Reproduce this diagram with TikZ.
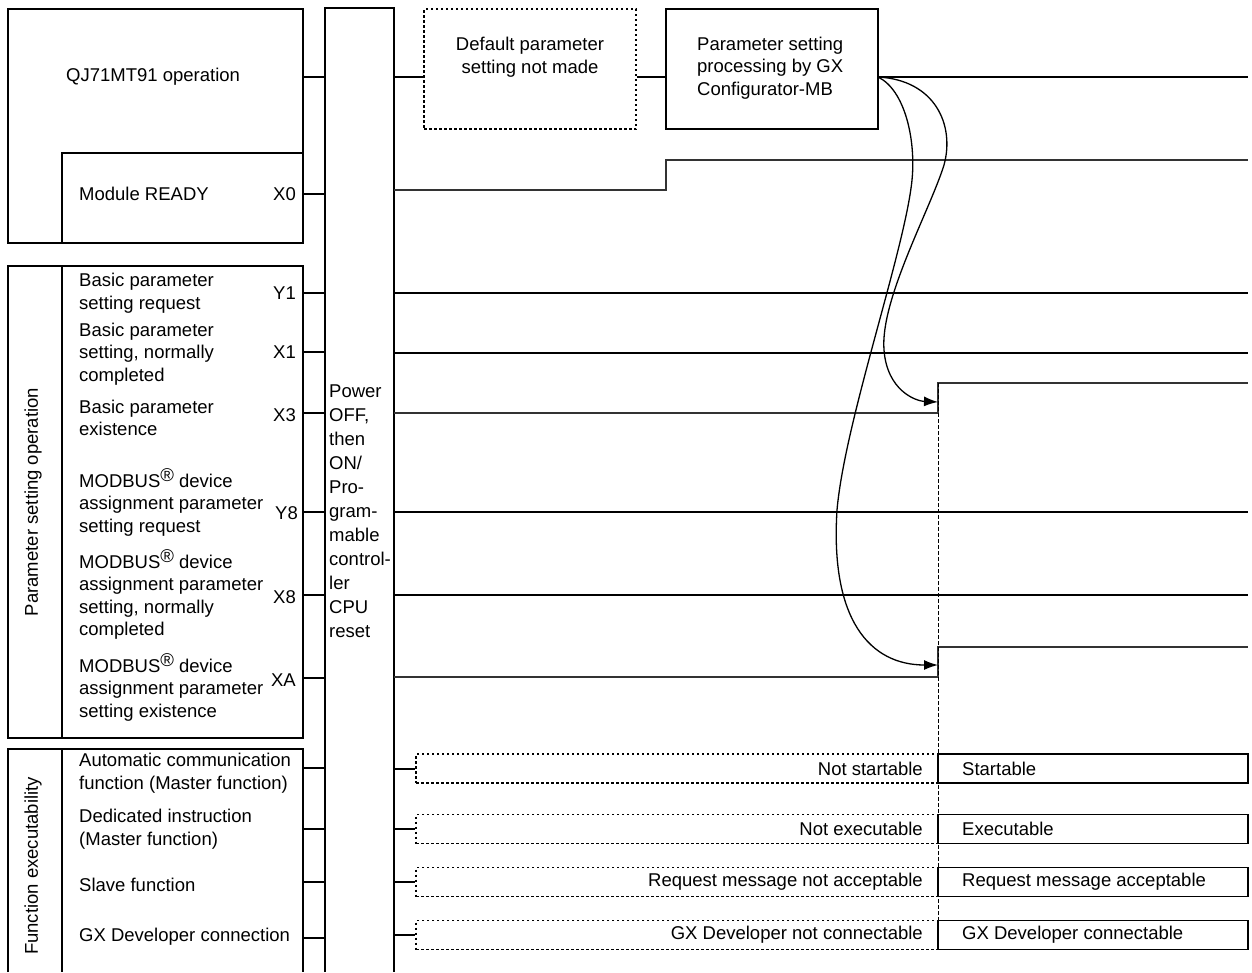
\documentclass[tikz,border=0pt]{standalone}
\usepackage{fontspec}
\setmainfont{Liberation Sans}
\usepackage{tikz}
\usetikzlibrary{arrows.meta, positioning}

\newcommand{\chartfont}{\fontsize{18.5pt}{22.5pt}\selectfont}
\newcommand{\regmark}{\smash{\raisebox{0.55ex}{\textregistered}}}

\tikzset{
  frame/.style={draw, line width=1.3pt},
  sig/.style={line width=1.4pt, draw=black!80},
  bold/.style={line width=2pt},
  dotbox/.style={draw, line width=1.2pt, dash pattern=on 2.5pt off 2.5pt},
  vdash/.style={line width=1pt, dash pattern=on 4pt off 2pt},
  txt/.style={font=\chartfont, inner sep=0pt, align=left, anchor=west},
  bit/.style={font=\chartfont, inner sep=0pt, anchor=east},
  flow/.style={line width=1.3pt, -{Latex[length=14pt, width=10pt]}},
}

\begin{document}
\begin{tikzpicture}[x=1pt, y=-1pt]
  \useasboundingbox (0,0) rectangle (1252,972);

  % left frames
  \draw[frame] (8,9) rectangle (303,243);
  \draw[frame] (62,243) |- (303,153);
  \draw[frame] (8,266) rectangle (303,738);
  \draw[frame] (62,266) -- (62,738);
  \draw[frame] (8,972) |- (303,749) -- (303,972);
  \draw[frame] (62,749) -- (62,972);

  % reset column
  \draw[frame] (325,972) |- (394,8) -- (394,972);
  \node[txt, font=\fontsize{18.5pt}{24pt}\selectfont] (reset) at (329,511)
    {Power\\OFF,\\then\\ON/\\Pro-\\gram-\\mable\\control-\\ler\\CPU\\reset};

  % group labels
  \node[font=\chartfont, rotate=90, inner sep=0pt] (psop) at (33,502) {Parameter setting operation};
  \node[font=\chartfont, rotate=90, inner sep=0pt] (fexe) at (33,866) {Function executability};

  % signal names
  \node[txt] (qjop) at (66,77) {QJ71MT91 operation};
  \node[txt] (ready) at (79,194) {Module READY};
  \node[bit] (x0) at (296,194) {X0};
  \node[txt] (bpreq) at (79,293) {Basic parameter\\setting request};
  \node[bit] (y1) at (296,293) {Y1};
  \node[txt] (bpok) at (79,354) {Basic parameter\\setting, normally\\completed};
  \node[bit] (x1) at (296,352) {X1};
  \node[txt] (bpex) at (79,418) {Basic parameter\\existence};
  \node[bit] (x3) at (296,415) {X3};
  \node[txt] (mdreq) at (79,505) {MODBUS\regmark{} device\\assignment parameter\\setting request};
  \node[bit] (y8) at (298,513) {Y8};
  \node[txt] (mdok) at (79,597) {MODBUS\regmark{} device\\assignment parameter\\setting, normally\\completed};
  \node[bit] (x8) at (296,597) {X8};
  \node[txt] (mdex) at (79,690) {MODBUS\regmark{} device\\assignment parameter\\setting existence};
  \node[bit] (xa) at (296,680) {XA};
  \node[txt] (autof) at (79,773) {Automatic communication\\function (Master function)};
  \node[txt] (dedi) at (79,829) {Dedicated instruction\\(Master function)};
  \node[txt] (slave) at (79,885) {Slave function};
  \node[txt] (gxdev) at (79,937) {GX Developer connection};

  % stubs into the reset column
  \foreach \y in {77,194,293,352,413,512,595,678,768,829,882,938}
    \draw[bold] (303,\y) -- (325,\y);

  % QJ71MT91 operation
  \node[dotbox, minimum width=212pt, minimum height=120pt] (dflt) at (530,69) {};
  \node[font=\chartfont, align=center, inner sep=0pt] (dflttxt) at (530,57) {Default parameter\\setting not made};
  \node[frame, minimum width=212pt, minimum height=120pt] (gxcfg) at (772,69) {};
  \node[txt] (gxcfgtxt) at (697,68) {Parameter setting\\processing by GX\\Configurator-MB};
  \coordinate (qjout) at (394,77);
  \coordinate (src) at (878,77);
  \draw[bold] (qjout) -- (qjout -| dflt.west);
  \draw[bold] (qjout -| dflt.east) -- (qjout -| gxcfg.west);
  \draw[bold] (src) -- (1248,77);

  % timing lines
  \draw[sig] (394,190) -- (666,190) -- (666,160) -- (1248,160);
  \draw[bold] (394,293) -- (1248,293);
  \draw[bold] (394,353) -- (1248,353);
  \draw[sig] (394,413) -- (938,413) -- (938,383) -- (1248,383);
  \draw[bold] (394,512) -- (1248,512);
  \draw[bold] (394,595) -- (1248,595);
  \draw[sig] (394,677) -- (938,677) -- (938,647) -- (1248,647);
  \draw[vdash] (938,383) -- (938,950);

  % arrows from GX Configurator-MB
  \coordinate (x3on) at (938,402);
  \coordinate (xaon) at (938,665);
  \draw[flow] (src)
    .. controls (935,80) and (955,125) .. (944,165)
    .. controls (930,210) and (880,300) .. (884,350)
    .. controls (887,390) and (915,401) .. (x3on);
  \draw[flow] (src)
    .. controls (905,90) and (916,140) .. (912,180)
    .. controls (905,250) and (845,420) .. (837,510)
    .. controls (830,620) and (870,665) .. (xaon);

  % function executability
  \foreach \y/\off/\on [count=\i] in {768.5/Not startable/Startable,
      829/Not executable/Executable,
      882/Request message not acceptable/Request message acceptable,
      935/GX Developer not connectable/GX Developer connectable}{
    \node[dotbox, minimum width=522pt, minimum height=29pt] (off\i) at (677,\y) {};
    \node[frame, minimum width=310pt, minimum height=29pt] (on\i) at (1093,\y) {};
    \node[bit] (offtxt\i) at (923,\y) {\off};
    \node[txt] (ontxt\i) at (962,\y) {\on};
    \draw[bold] (394,\y) -- (off\i.west);
  }
\end{tikzpicture}
\end{document}
